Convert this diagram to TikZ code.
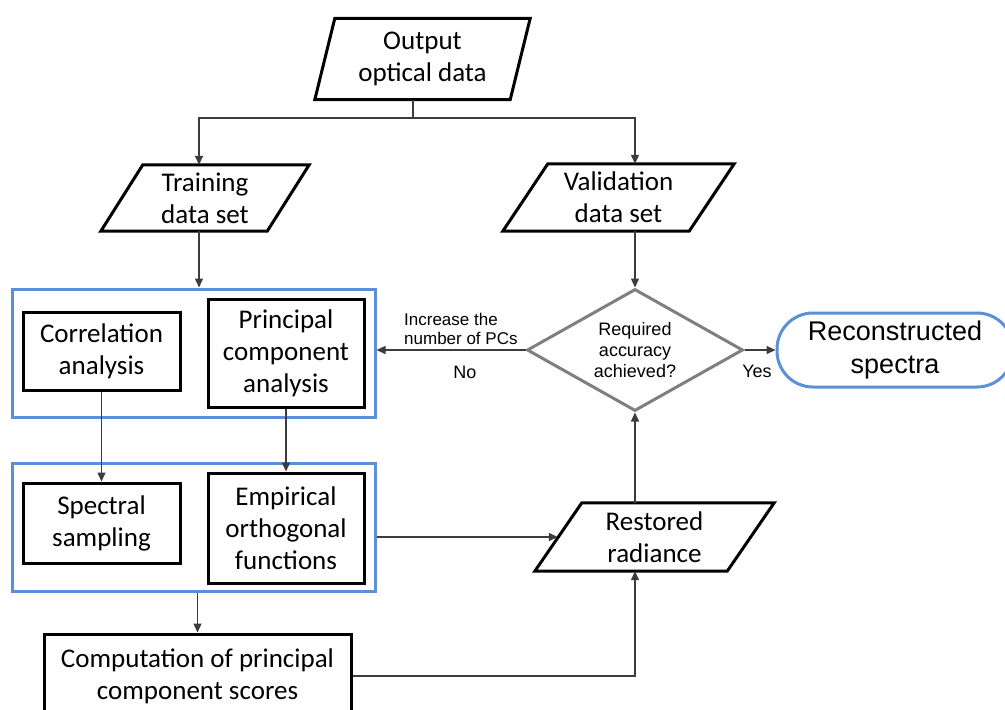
\documentclass[tikz,border=0pt]{standalone}
\usepackage{fontspec}
\setmainfont{Carlito}
\newfontfamily\arialf{Liberation Sans}
\usetikzlibrary{arrows.meta,calc,shapes.geometric}
\definecolor{boxblue}{RGB}{91,143,214}
\definecolor{diagray}{RGB}{127,127,127}
\definecolor{connc}{RGB}{60,60,60}
\newcommand\parashape[2]{\draw[black,line width=3pt] ($(#1.south west)+(-#2,0)$) -- (#1.north west) -- ($(#1.north east)+(#2,0)$) -- (#1.south east) -- cycle;}
\begin{document}
\begin{tikzpicture}[x=1pt,y=-1pt,
  box/.style={draw=black,line width=3pt,minimum width=156pt,inner sep=0pt,align=center,font=\fontsize{27}{32}\selectfont},
  grp/.style={draw=boxblue,line width=3pt,minimum width=363pt,inner sep=0pt},
  ptext/.style={inner sep=0pt,align=center,font=\fontsize{27}{32}\selectfont},
  conn/.style={draw=connc,line width=1.4pt},
  arr/.style={conn,-{Triangle[length=9pt,width=8pt]}},
  lab/.style={font=\arialf\fontsize{18}{21}\selectfont,align=center,inner sep=0pt}]
\fill[white] (0,0) rectangle (1005,710);
\clip (0,0) rectangle (1005,710);
% parallelogram text holders
\node[ptext,minimum width=175pt,minimum height=81pt] (out) at (422.5,59) {Output\\optical data};
\node[ptext,minimum width=124pt,minimum height=66pt] (train) at (205,198) {Training\\data set};
\node[ptext,minimum width=141pt,minimum height=67pt] (valid) at (618.5,197.5) {Validation\\data set};
\node[ptext,minimum width=145pt,minimum height=68pt] (rest) at (654.5,537) {Restored\\radiance};
\parashape{out}{20}
\parashape{train}{42}
\parashape{valid}{45}
\parashape{rest}{47}
% groups
\node[grp,minimum height=128pt] (g1) at (193.5,353) {};
\node[grp,minimum height=128pt] (g2) at (193.5,527) {};
% boxes
\node[box,minimum width=157pt,minimum height=78pt] (corr) at (101.5,351) {Correlation\\analysis};
\node[box,minimum height=108pt] (pca) at (286,353) {Principal\\component\\analysis};
\node[box,minimum width=157pt,minimum height=80pt] (spec) at (101.5,523) {Spectral\\sampling};
\node[box,minimum height=110pt] (eof) at (286,528) {Empirical\\orthogonal\\functions};
\node[box,minimum width=307pt,minimum height=84pt] (comp) at (197.5,676) {Computation of principal\\component scores};
% decision
\node[diamond,draw=diagray,line width=3pt,minimum width=216pt,minimum height=122pt,shape aspect=1.77,lab] (dia) at (635,350) {Required\\accuracy\\achieved?};
\node[draw=boxblue,line width=3pt,rounded corners=36pt,minimum width=236pt,minimum height=74pt,inner sep=0pt,align=center,font=\arialf\fontsize{27}{33}\selectfont] (recon) at (895,350) {Reconstructed\\spectra};
% labels
\node[lab,align=left,anchor=west,font=\arialf\fontsize{17}{19}\selectfont] (inc) at (404,329) {Increase the\\number of PCs};
\node[lab] (no) at (465,372) {No};
\node[lab] (yes) at (757,371) {Yes};
% connectors
\coordinate (split) at (413,118);
\coordinate (tcol) at (199,0);
\coordinate (vcol) at (635,0);
\draw[conn] (out.south -| split) -- (split);
\draw[arr] (split) -| (train.north -| tcol);
\draw[arr] (split) -| (valid.north -| vcol);
\draw[arr] (train.south -| tcol) -- (g1.north -| tcol);
\draw[arr] (valid.south -| vcol) -- (dia.north);
\draw[arr] (corr.south) -- (spec.north);
\draw[arr] (pca.south) -- (eof.north);
\draw[arr] (dia.west) -- (dia.west -| g1.east);
\draw[arr] (dia.east) -- (recon.west);
\draw[arr] (rest.north -| dia.south) -- (dia.south);
\draw[arr] (g2.east |- rest.west) -- ($(rest.west)+(-24,0)$);
\draw[arr] (comp.north |- g2.south) -- (comp.north);
\draw[arr] (comp.east) -| (rest.south -| dia.south);
\end{tikzpicture}
\end{document}
